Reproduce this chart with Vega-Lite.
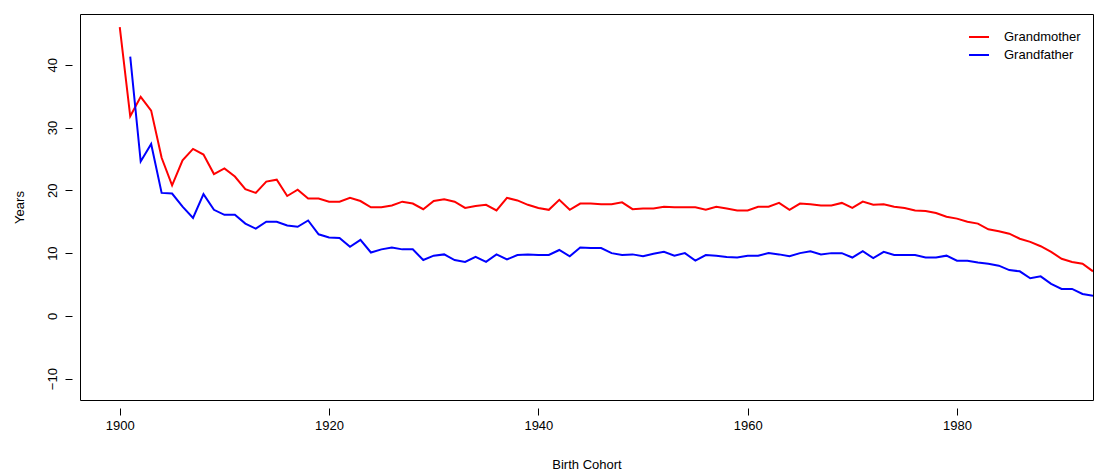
{
"$schema":"https://vega.github.io/schema/vega-lite/v6.json",
"width":1013,"height":386,
"padding":{"left":80,"top":14,"right":1,"bottom":71},
"autosize":{"type":"none"},
"config":{"font":"Liberation Sans","view":{"stroke":"black","strokeWidth":1}},
"data":{"values":[
{"year":1900,"Grandmother":46.0,"Grandfather":null},
{"year":1901,"Grandmother":31.8,"Grandfather":41.3},
{"year":1902,"Grandmother":34.9,"Grandfather":24.6},
{"year":1903,"Grandmother":32.7,"Grandfather":27.4},
{"year":1904,"Grandmother":25.2,"Grandfather":19.6},
{"year":1905,"Grandmother":20.8,"Grandfather":19.5},
{"year":1906,"Grandmother":24.8,"Grandfather":17.4},
{"year":1907,"Grandmother":26.6,"Grandfather":15.6},
{"year":1908,"Grandmother":25.7,"Grandfather":19.4},
{"year":1909,"Grandmother":22.6,"Grandfather":16.9},
{"year":1910,"Grandmother":23.5,"Grandfather":16.1},
{"year":1911,"Grandmother":22.2,"Grandfather":16.1},
{"year":1912,"Grandmother":20.2,"Grandfather":14.7},
{"year":1913,"Grandmother":19.6,"Grandfather":13.9},
{"year":1914,"Grandmother":21.4,"Grandfather":15.0},
{"year":1915,"Grandmother":21.7,"Grandfather":15.0},
{"year":1916,"Grandmother":19.1,"Grandfather":14.4},
{"year":1917,"Grandmother":20.1,"Grandfather":14.2},
{"year":1918,"Grandmother":18.7,"Grandfather":15.2},
{"year":1919,"Grandmother":18.7,"Grandfather":13.0},
{"year":1920,"Grandmother":18.2,"Grandfather":12.5},
{"year":1921,"Grandmother":18.2,"Grandfather":12.4},
{"year":1922,"Grandmother":18.8,"Grandfather":11.0},
{"year":1923,"Grandmother":18.3,"Grandfather":12.1},
{"year":1924,"Grandmother":17.3,"Grandfather":10.1},
{"year":1925,"Grandmother":17.3,"Grandfather":10.6},
{"year":1926,"Grandmother":17.6,"Grandfather":10.9},
{"year":1927,"Grandmother":18.2,"Grandfather":10.6},
{"year":1928,"Grandmother":17.9,"Grandfather":10.6},
{"year":1929,"Grandmother":17.0,"Grandfather":8.9},
{"year":1930,"Grandmother":18.3,"Grandfather":9.6},
{"year":1931,"Grandmother":18.6,"Grandfather":9.8},
{"year":1932,"Grandmother":18.2,"Grandfather":8.9},
{"year":1933,"Grandmother":17.2,"Grandfather":8.6},
{"year":1934,"Grandmother":17.5,"Grandfather":9.4},
{"year":1935,"Grandmother":17.7,"Grandfather":8.6},
{"year":1936,"Grandmother":16.8,"Grandfather":9.8},
{"year":1937,"Grandmother":18.8,"Grandfather":9.0},
{"year":1938,"Grandmother":18.4,"Grandfather":9.7},
{"year":1939,"Grandmother":17.7,"Grandfather":9.8},
{"year":1940,"Grandmother":17.2,"Grandfather":9.7},
{"year":1941,"Grandmother":16.9,"Grandfather":9.7},
{"year":1942,"Grandmother":18.5,"Grandfather":10.5},
{"year":1943,"Grandmother":16.9,"Grandfather":9.5},
{"year":1944,"Grandmother":17.9,"Grandfather":10.9},
{"year":1945,"Grandmother":17.9,"Grandfather":10.8},
{"year":1946,"Grandmother":17.8,"Grandfather":10.8},
{"year":1947,"Grandmother":17.8,"Grandfather":10.0},
{"year":1948,"Grandmother":18.1,"Grandfather":9.7},
{"year":1949,"Grandmother":17.0,"Grandfather":9.8},
{"year":1950,"Grandmother":17.1,"Grandfather":9.5},
{"year":1951,"Grandmother":17.1,"Grandfather":9.9},
{"year":1952,"Grandmother":17.4,"Grandfather":10.2},
{"year":1953,"Grandmother":17.3,"Grandfather":9.6},
{"year":1954,"Grandmother":17.3,"Grandfather":10.0},
{"year":1955,"Grandmother":17.3,"Grandfather":8.8},
{"year":1956,"Grandmother":16.9,"Grandfather":9.7},
{"year":1957,"Grandmother":17.4,"Grandfather":9.6},
{"year":1958,"Grandmother":17.1,"Grandfather":9.4},
{"year":1959,"Grandmother":16.8,"Grandfather":9.3},
{"year":1960,"Grandmother":16.8,"Grandfather":9.6},
{"year":1961,"Grandmother":17.4,"Grandfather":9.6},
{"year":1962,"Grandmother":17.4,"Grandfather":10.0},
{"year":1963,"Grandmother":18.0,"Grandfather":9.8},
{"year":1964,"Grandmother":16.9,"Grandfather":9.5},
{"year":1965,"Grandmother":17.9,"Grandfather":10.0},
{"year":1966,"Grandmother":17.8,"Grandfather":10.3},
{"year":1967,"Grandmother":17.6,"Grandfather":9.8},
{"year":1968,"Grandmother":17.6,"Grandfather":10.0},
{"year":1969,"Grandmother":18.0,"Grandfather":10.0},
{"year":1970,"Grandmother":17.2,"Grandfather":9.3},
{"year":1971,"Grandmother":18.2,"Grandfather":10.3},
{"year":1972,"Grandmother":17.7,"Grandfather":9.2},
{"year":1973,"Grandmother":17.8,"Grandfather":10.2},
{"year":1974,"Grandmother":17.4,"Grandfather":9.7},
{"year":1975,"Grandmother":17.2,"Grandfather":9.7},
{"year":1976,"Grandmother":16.8,"Grandfather":9.7},
{"year":1977,"Grandmother":16.7,"Grandfather":9.3},
{"year":1978,"Grandmother":16.4,"Grandfather":9.3},
{"year":1979,"Grandmother":15.8,"Grandfather":9.6},
{"year":1980,"Grandmother":15.5,"Grandfather":8.8},
{"year":1981,"Grandmother":15.0,"Grandfather":8.8},
{"year":1982,"Grandmother":14.7,"Grandfather":8.5},
{"year":1983,"Grandmother":13.8,"Grandfather":8.3},
{"year":1984,"Grandmother":13.5,"Grandfather":8.0},
{"year":1985,"Grandmother":13.1,"Grandfather":7.3},
{"year":1986,"Grandmother":12.3,"Grandfather":7.1},
{"year":1987,"Grandmother":11.8,"Grandfather":6.0},
{"year":1988,"Grandmother":11.1,"Grandfather":6.3},
{"year":1989,"Grandmother":10.2,"Grandfather":5.1},
{"year":1990,"Grandmother":9.1,"Grandfather":4.3},
{"year":1991,"Grandmother":8.6,"Grandfather":4.3},
{"year":1992,"Grandmother":8.3,"Grandfather":3.5},
{"year":1993,"Grandmother":7.1,"Grandfather":3.2}
]},
"transform":[{"fold":["Grandmother","Grandfather"],"as":["who","value"]},{"filter":"datum.value != null"}],
"mark":{"type":"line","strokeWidth":2,"clip":true},
"encoding":{
"x":{"field":"year","type":"quantitative","scale":{"domain":[1896.2,1993],"nice":false,"zero":false},
"axis":{"values":[1900,1920,1940,1960,1980],"format":"d","grid":false,"domain":false,"offset":8,"tickColor":"black","tickSize":7,"labelColor":"black","labelFontSize":13,"labelPadding":4,"title":"Birth Cohort","titleFontWeight":"normal","titleFontSize":13,"titleColor":"black","titlePadding":26}},
"y":{"field":"value","type":"quantitative","scale":{"domain":[-13.4,48.1],"nice":false,"zero":false},
"axis":{"values":[-10,0,10,20,30,40],"grid":false,"domain":false,"offset":8,"tickColor":"black","tickSize":7,"labelAngle":-90,"labelAlign":"center","labelBaseline":"bottom","labelColor":"black","labelFontSize":13,"labelPadding":6,"title":"Years","titleFontWeight":"normal","titleFontSize":13,"titleColor":"black","titlePadding":20}},
"color":{"field":"who","type":"nominal","sort":["Grandmother","Grandfather"],"scale":{"domain":["Grandmother","Grandfather"],"range":["#ff0000","#0000ff"]},
"legend":{"title":null,"orient":"top-right","offset":12,"padding":0,"symbolType":"stroke","symbolStrokeWidth":2,"symbolSize":400,"labelFontSize":13,"labelColor":"black","rowPadding":0,"labelOffset":14}}
}
}
